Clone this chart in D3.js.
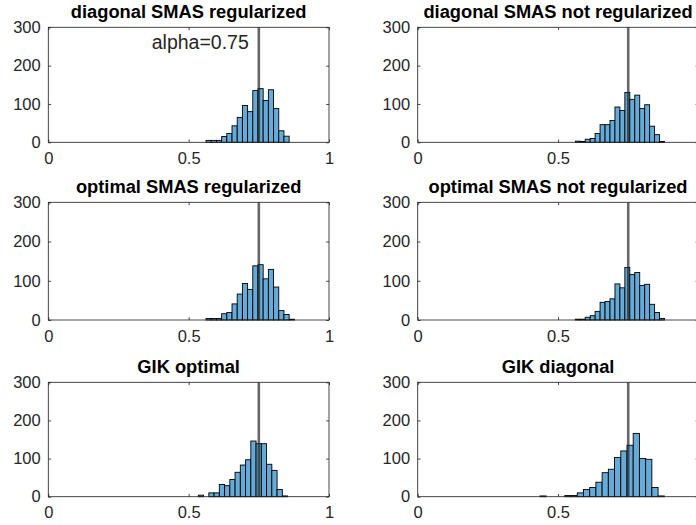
<!DOCTYPE html>
<html>
<head>
<meta charset="utf-8">
<script src="https://cdn.jsdelivr.net/npm/d3@7"></script>
<style>
body { margin: 0; background: #fff; }
svg { display: block; }
text { font-family: "Liberation Sans", Arial, Helvetica, sans-serif; }
</style>
</head>
<body>
<svg width="696" height="525"></svg>
<script>
// panel titles, row by row
const titles = ["diagonal SMAS regularized", "diagonal SMAS not regularized",
                "optimal SMAS regularized", "optimal SMAS not regularized",
                "GIK optimal", "GIK diagonal"];
// first bin edge and bin width of each histogram
const binStart = [0.562, 0.5615, 0.562, 0.5615, 0.5345, 0.4355];
const binWidth = [0.0185, 0.01765, 0.0185, 0.01765, 0.0187, 0.02215];
// bin counts
const diagReg    = [5, 5, 5, 15, 23, 43, 65, 96, 80, 135, 140, 109, 137, 88, 30, 16];
const diagNotReg = [3, 2, 8, 10, 23, 46, 46, 57, 92, 83, 130, 112, 123, 88, 98, 42, 20, 2];
const optReg     = [4, 4, 4, 16, 19, 41, 66, 93, 78, 138, 141, 105, 129, 84, 24, 14, 2];
const optNotReg  = [2, 2, 7, 11, 22, 45, 47, 54, 92, 82, 134, 116, 121, 88, 91, 40, 19, 4];
const gikOpt     = [4, 0, 10, 10, 32, 29, 45, 64, 83, 97, 146, 139, 139, 85, 69, 19, 2];
const gikDiag    = [2, 0, 0, 0, 3, 3, 10, 19, 24, 38, 63, 72, 103, 120, 135, 166, 100, 98, 24, 2];
const allCounts = [diagReg, diagNotReg, optReg, optNotReg, gikOpt, gikDiag];
const xTicks = [0, 0.5, 1];
const yTicks = [0, 100, 200, 300];
const alpha = 0.75;

let svg = d3.select("svg");
let colLeft = [48.3, 417.7],
    axW = 280.7;
let rowTop = [27.3, 202.3, 382.3],
    rowBot = [142.3, 320, 496.7];
let tickLen = 2.8;
let axisColor = "#262626";

titles.forEach(function(title, i) {
    let col = i % 2, row = Math.floor(i / 2);
    let x = d3.scaleLinear().domain([0, 1]).range([colLeft[col], colLeft[col] + axW]);
    let y = d3.scaleLinear().domain([0, 300]).range([rowBot[row], rowTop[row]]);
    let g = svg.append("g");

    // histogram bars (empty bins are not drawn)
    let bins = allCounts[i].map(function(c, k) { return {c: c, k: k}; })
        .filter(function(d) { return d.c > 0; });
    g.selectAll("rect.bar").data(bins).enter().append("rect")
        .attr("class", "bar")
        .attr("x", function(d) { return x(binStart[i] + d.k * binWidth[i]); })
        .attr("width", x(binWidth[i]) - x(0))
        .attr("y", function(d) { return y(d.c); })
        .attr("height", function(d) { return y(0) - y(d.c); })
        .attr("fill", "#66aad7")
        .attr("stroke", "#000")
        .attr("stroke-width", 0.9);

    // alpha line
    g.append("line")
        .attr("x1", x(alpha)).attr("x2", x(alpha))
        .attr("y1", y(0)).attr("y2", y(300))
        .attr("stroke", axisColor)
        .attr("stroke-opacity", 0.7)
        .attr("stroke-width", 2.6);
    if (i == 0) {
        g.append("text")
            .attr("x", x(alpha) - 10)
            .attr("y", rowTop[row] + 22)
            .attr("text-anchor", "end")
            .attr("fill", axisColor)
            .style("font-size", "19.5px")
            .text("alpha=" + alpha);
    }

    // axes, ticks pointing inward on all four sides
    // the right column runs past the page edge, so its "1" label is not shown
    let fmt = function(d) { return (col == 1 && d == 1) ? "" : String(d); };
    g.append("g").attr("transform", "translate(0," + y(0) + ")")
        .call(d3.axisBottom(x).tickValues(xTicks).tickFormat(fmt).tickSize(-tickLen).tickPadding(10));
    g.append("g").attr("transform", "translate(0," + y(300) + ")")
        .call(d3.axisTop(x).tickValues(xTicks).tickFormat("").tickSize(-tickLen));
    g.append("g").attr("transform", "translate(" + x(0) + ",0)")
        .call(d3.axisLeft(y).tickValues(yTicks).tickFormat(String).tickSize(-tickLen).tickPadding(7.6));
    g.append("g").attr("transform", "translate(" + x(1) + ",0)")
        .call(d3.axisRight(y).tickValues(yTicks).tickFormat("").tickSize(-tickLen));
    g.selectAll(".domain").remove();
    g.selectAll(".tick line").attr("stroke", axisColor).attr("stroke-width", 0.85);
    g.selectAll(".tick text").attr("fill", axisColor).style("font-size", "16.5px")
        .style("font-family", '"Liberation Sans", Arial, Helvetica, sans-serif');
    g.append("rect")
        .attr("x", x(0)).attr("y", y(300))
        .attr("width", x(1) - x(0)).attr("height", y(0) - y(300))
        .attr("fill", "none")
        .attr("stroke", axisColor)
        .attr("stroke-width", 0.85);

    // title
    g.append("text")
        .attr("x", (x(0) + x(1)) / 2)
        .attr("y", rowTop[row] - 9)
        .attr("text-anchor", "middle")
        .attr("fill", "#000")
        .style("font-size", "18.3px")
        .style("font-weight", "bold")
        .text(title);
});
</script>
</body>
</html>
